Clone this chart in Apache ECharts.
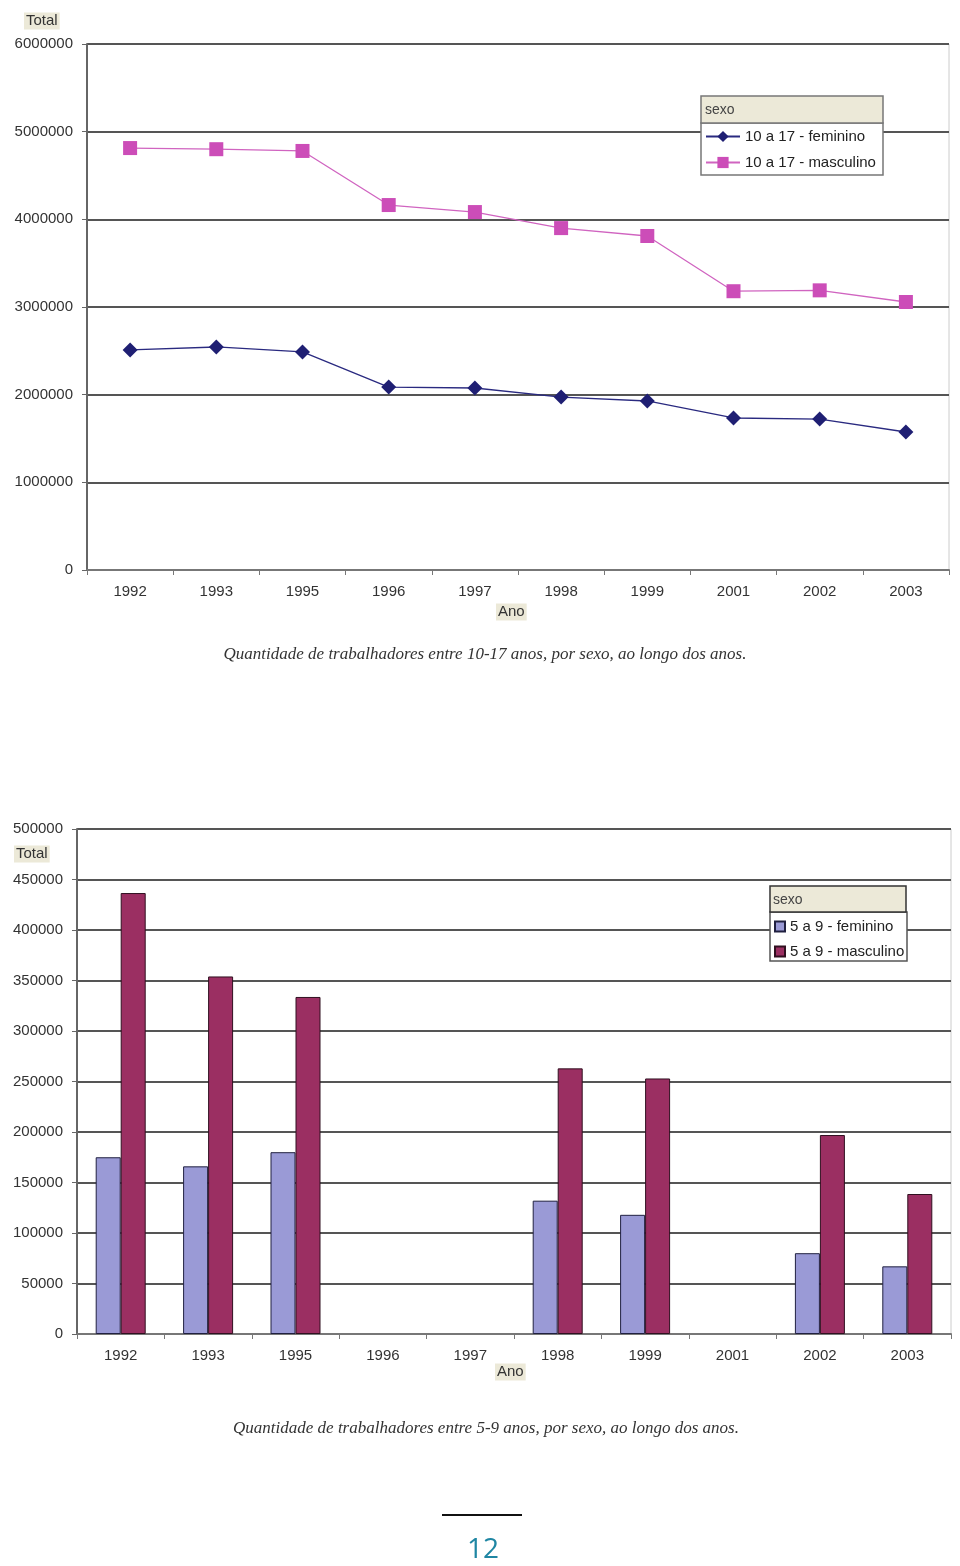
<!DOCTYPE html>
<html><head><meta charset="utf-8">
<script src="https://cdn.jsdelivr.net/npm/echarts@6/dist/echarts.min.js"></script>
<style>html,body{margin:0;padding:0;background:#fff}#c{width:960px;height:1566px}</style>
</head><body><div id="c"></div>
<script>
const years = ['1992','1993','1995','1996','1997','1998','1999','2001','2002','2003'];
const fem10 = [2510000,2544000,2487000,2087000,2076000,1973000,1928000,1734000,1722000,1574000];
const masc10 = [4813000,4800000,4780000,4163000,4083000,3900000,3810000,3180000,3190000,3057000];
const fem5 = [175000,166000,180000,null,null,132000,118000,null,80000,67000];
const masc5 = [436600,354000,333700,null,null,263000,253000,null,197000,138600];
const yTicks10 = {min:0,max:6000000,interval:1000000};
const yTicks5 = {min:0,max:500000,interval:50000};
const caption1 = 'Quantidade de trabalhadores entre 10-17 anos, por sexo, ao longo dos anos.';
const caption2 = 'Quantidade de trabalhadores entre 5-9 anos, por sexo, ao longo dos anos.';

const FONT = 'Liberation Sans, Arial, sans-serif';
const beige = '#ece9d8';
const axisLab = {color:'#333', fontSize:15, fontFamily:FONT};
function yAx(idx, t){
  return {gridIndex:idx, type:'value', min:t.min, max:t.max, interval:t.interval,
    axisLine:{show:true, lineStyle:{color:'#666', width:2}},
    axisTick:{show:true, length:5, lineStyle:{color:'#666'}},
    axisLabel:Object.assign({margin:14, formatter:v=>String(v)}, axisLab),
    splitLine:{show:true, lineStyle:{color:'#555', width:2}}};
}
function xAx(idx){
  return {gridIndex:idx, type:'category', data:years, boundaryGap:true,
    axisLine:{show:true, lineStyle:{color:'#777', width:2}},
    axisTick:{show:true, interval:0, length:5, lineStyle:{color:'#777'}},
    axisLabel:Object.assign({margin:14, interval:0}, axisLab),
    splitLine:{show:false}};
}
const CAPFONT = 'italic 17px "Liberation Serif", serif';
const chart = echarts.init(document.getElementById('c'), null, {renderer:'canvas'});
chart.setOption({
  animation:false,
  backgroundColor:'#fff',
  grid:[
    {left:87, top:44, width:862, height:526, show:true, borderColor:'#ccc', borderWidth:1, backgroundColor:'#fff'},
    {left:77, top:829, width:874, height:505, show:true, borderColor:'#ccc', borderWidth:1, backgroundColor:'#fff'}
  ],
  xAxis:[xAx(0), xAx(1)],
  yAxis:[yAx(0,yTicks10), yAx(1,yTicks5)],
  legend:[
    {data:['10 a 17 - feminino','10 a 17 - masculino'], orient:'vertical', left:701, top:127,
     itemGap:11, itemWidth:34, itemHeight:14, padding:[2,4,2,4],
     textStyle:{color:'#222', fontSize:15, fontFamily:FONT}},
    {data:['5 a 9 - feminino','5 a 9 - masculino'], orient:'vertical', left:770, top:917,
     itemGap:10, itemWidth:10, itemHeight:10, icon:'rect', padding:[2,4,2,4],
     textStyle:{color:'#222', fontSize:15, fontFamily:FONT}}
  ],
  series:[
    {name:'10 a 17 - feminino', type:'line', xAxisIndex:0, yAxisIndex:0, data:fem10,
     symbol:'diamond', symbolSize:15, itemStyle:{color:'#1f1f73'}, lineStyle:{color:'#2a2a80', width:1.3}},
    {name:'10 a 17 - masculino', type:'line', xAxisIndex:0, yAxisIndex:0, data:masc10,
     symbol:'rect', symbolSize:14, itemStyle:{color:'#cc4db8'}, lineStyle:{color:'#d064c0', width:1.3}},
    {name:'5 a 9 - feminino', type:'bar', xAxisIndex:1, yAxisIndex:1, data:fem5,
     barWidth:25, barGap:'0%', itemStyle:{color:'#9a9ad6', borderColor:'#202040', borderWidth:1}},
    {name:'5 a 9 - masculino', type:'bar', xAxisIndex:1, yAxisIndex:1, data:masc5,
     barWidth:25, barGap:'0%', itemStyle:{color:'#9b2f62', borderColor:'#301020', borderWidth:1}}
  ],
  graphic:[
    {type:'rect', shape:{x:701,y:123,width:182,height:52}, style:{fill:'#fff', stroke:'#777', lineWidth:1.5}, z:3},
    {type:'rect', shape:{x:701,y:96,width:182,height:27}, style:{fill:beige, stroke:'#777', lineWidth:1.5}, z:3},
    {type:'text', x:705, y:110, style:{text:'sexo', fill:'#444', font:'14px '+FONT, verticalAlign:'middle'}, z:4},
    {type:'rect', shape:{x:770,y:912,width:137,height:49}, style:{fill:'#fff', stroke:'#555', lineWidth:1.5}, z:3},
    {type:'rect', shape:{x:770,y:886,width:136,height:26}, style:{fill:beige, stroke:'#333', lineWidth:1.5}, z:3},
    {type:'text', x:773, y:900, style:{text:'sexo', fill:'#444', font:'14px '+FONT, verticalAlign:'middle'}, z:4},
    {type:'text', x:24, y:21, style:{text:'Total', fill:'#333', font:'15px '+FONT, verticalAlign:'middle', backgroundColor:beige, padding:[1,2]}, z:4},
    {type:'text', x:496, y:612, style:{text:'Ano', fill:'#333', font:'15px '+FONT, verticalAlign:'middle', backgroundColor:beige, padding:[1,2]}, z:4},
    {type:'text', x:14, y:854, style:{text:'Total', fill:'#333', font:'15px '+FONT, verticalAlign:'middle', backgroundColor:beige, padding:[1,2]}, z:4},
    {type:'text', x:495, y:1372, style:{text:'Ano', fill:'#333', font:'15px '+FONT, verticalAlign:'middle', backgroundColor:beige, padding:[1,2]}, z:4},
    {type:'text', x:485, y:655, style:{text:caption1, fill:'#333', font:CAPFONT, align:'center', verticalAlign:'middle'}},
    {type:'text', x:486, y:1429, style:{text:caption2, fill:'#333', font:CAPFONT, align:'center', verticalAlign:'middle'}},
    {type:'line', shape:{x1:442,y1:1515,x2:522,y2:1515}, style:{stroke:'#111', lineWidth:2}},
    {type:'text', x:483, y:1550, style:{text:'12', fill:'#1f86a3', font:'28px "Open Sans", sans-serif', align:'center', verticalAlign:'middle'}}
  ]
});
</script></body></html>
